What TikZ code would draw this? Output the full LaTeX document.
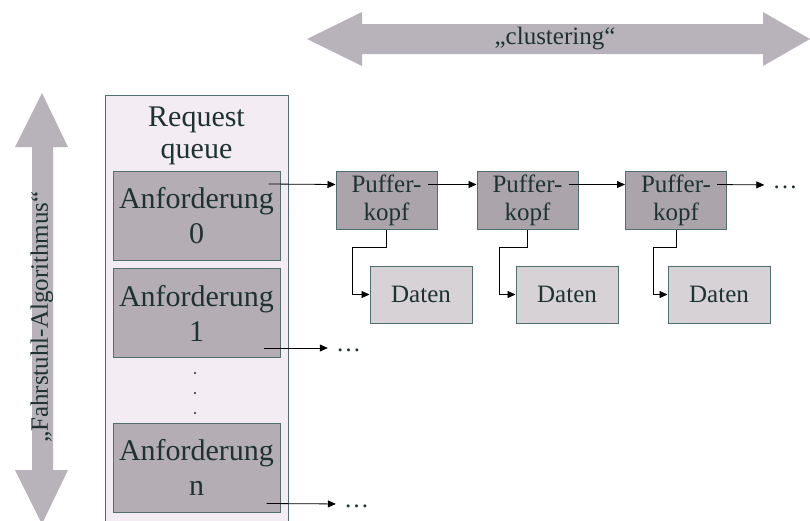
\documentclass[tikz,border=0pt]{standalone}
\usepackage{fontspec}
\setmainfont{Liberation Serif}
\usetikzlibrary{
    arrows.meta,
    calc,
    positioning
}
\definecolor{bigarrow}{HTML}{B8B3BA}
\definecolor{queuebg}{HTML}{F3EDF3}
\definecolor{reqfill}{HTML}{B4ADB4}
\definecolor{buffill}{HTML}{ABA5AB}
\definecolor{datfill}{HTML}{D6D2D6}
\definecolor{edgecol}{HTML}{4F6F6F}
\definecolor{ink}{HTML}{1E3232}
\tikzset{
    bigtext/.style={font=\fontsize{30}{35}\selectfont, text=ink},
    smalltext/.style={font=\fontsize{25}{28}\selectfont, text=ink},
    box/.style={draw=edgecol, line width=1pt, align=center, inner sep=0pt},
    req/.style={box, fill=reqfill, minimum width=167pt, minimum height=89pt, bigtext},
    buf/.style={box, fill=buffill, minimum width=101pt, minimum height=58pt, smalltext},
    dat/.style={box, fill=datfill, minimum width=102pt, minimum height=57pt, smalltext},
    more/.style={smalltext, inner sep=0pt},
    link/.style={-{Triangle[length=8pt,width=7pt]}, line width=0.8pt, shorten >=8pt}
}

\begin{document}
\begin{tikzpicture}[x=1pt, y=-1pt]
    \useasboundingbox (0,0) rectangle (810,520);

    % big arrows
    \fill[bigarrow] (307,39) -- (362,12) -- (362,24) -- (763,24) -- (763,12)
        -- (810,39) -- (763,66) -- (763,54) -- (362,54) -- (362,66) -- cycle;
    \node[smalltext] (clust) at (555,39) {„clustering“};
    \fill[bigarrow] (42,93) -- (68,147) -- (53,147) -- (53,470) -- (68,470)
        -- (42,524) -- (15,470) -- (32,470) -- (32,147) -- (15,147) -- cycle;
    \node[smalltext, rotate=90] (fahr) at (42,317) {„Fahrstuhl-Algorithmus“};

    % request queue
    \node[box, fill=queuebg, anchor=north west, minimum width=183pt, minimum height=440pt] (queue) at (105,95) {};
    \node[font=\fontsize{30}{32}\selectfont, text=ink, align=center] (title) at (196.5,136) {Request\\queue};
    \node[req] (a0) at (196.5,216) {Anforderung\\0};
    \node[req] (a1) at (196.5,313) {Anforderung\\1};
    \node[req] (an) at (196.5,467.5) {Anforderung\\n};
    \foreach \y in {373,393,413}
        \fill[ink] (195,\y) circle (1.2);

    % buffers
    \node[buf] (p1) at (386.5,200) {Puffer-\\kopf};
    \node[buf] (p2) at (527.5,200) {Puffer-\\kopf};
    \node[buf] (p3) at (676,200) {Puffer-\\kopf};
    \node[dat] (d1) at (421,294.5) {Daten};
    \node[dat] (d2) at (567,294.5) {Daten};
    \node[dat] (d3) at (719,294.5) {Daten};
    \node[more] (m0) at (785,187) {\ldots};
    \node[more] (m1) at (348.5,350) {\ldots};
    \node[more] (mn) at (356.5,506) {\ldots};

    \draw[link, shorten >=0pt] ($(a0.north east)+(-12,13)$) -- ($(p1.north west)+(0,14)$);
    \foreach \a/\b in {p1/p2, p2/p3}
        \draw[link, shorten >=0pt] ($(\a.north east)+(-10,14)$) -- ($(\b.north west)+(0,14)$);
    \draw[link] ($(p3.north east)+(-10,14)$) -- (m0.west |- 0,185);
    \foreach \p/\d/\o in {p1/d1/34, p2/d2/28, p3/d3/23}
        \draw[link, shorten >=0pt] (\p.south) -- ++(0,18) -- ++(-\o,0) |- (\d.west);
    \draw[link] ($(a1.south east)+(-17,-10)$) -- (m1.west |- 0,348);
    \draw[link] ($(an.south east)+(-14,-9)$) -- (mn.west |- 0,504);
\end{tikzpicture}
\end{document}
